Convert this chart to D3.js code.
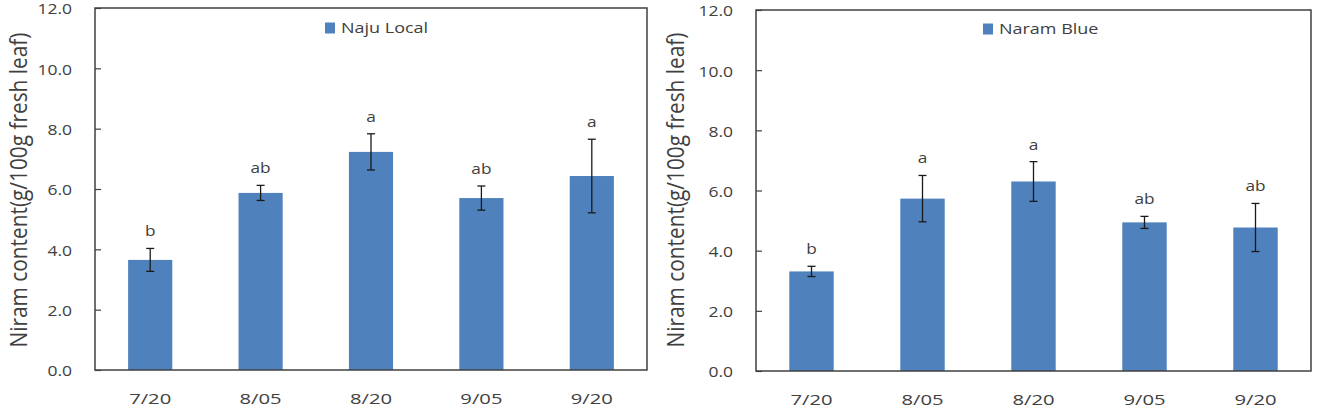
<!DOCTYPE html>
<html>
	<head>
		<style>
			body
			{
				margin: 0;
				background: #ffffff;
			}

			svg
			{
				display: block;
				font-family: "Open Sans", sans-serif;
			}

			.frame
			{
				fill: none;
				stroke: #404040;
				stroke-width: 1.5px;
			}

			.bar
			{
				fill: #4f81bd;
			}

			.errBar
			{
				stroke: #1a1a1a;
				stroke-width: 1.3px;
			}

			.chartText
			{
				fill: #404040;
			}
		</style>

		<script src="https://d3js.org/d3.v7.min.js"></script>
	</head>

	<body>
		<svg width="1325" height="416"></svg>

		<script>
			var dates = ["7/20", "8/05", "8/20", "9/05", "9/20"];
			var yTicks = [0, 2, 4, 6, 8, 10, 12];

			var najuMean = [3.65, 5.87, 7.23, 5.70, 6.43];
			var najuErr = [0.38, 0.25, 0.60, 0.40, 1.22];
			var najuLetters = ["b", "ab", "a", "ab", "a"];

			var naramMean = [3.31, 5.73, 6.30, 4.94, 4.77];
			var naramErr = [0.17, 0.77, 0.66, 0.20, 0.80];
			var naramLetters = ["b", "a", "a", "ab", "ab"];

			var yTitle = "Niram content(g/100g fresh leaf)";
			var stretch = 1.25;

			var svg = d3.select("svg");

			function drawPanel(opt)
			{
				var g = svg.append("g");

				var x = d3.scaleBand()
					.domain(dates)
					.range([opt.left, opt.right])
					.paddingInner(0.6)
					.paddingOuter(0.3);

				var y = d3.scaleLinear()
					.domain([0, 12])
					.range([opt.bottom, opt.top]);

				// y axis, ticks pointing inwards
				var yAxis = g.append("g")
					.attr("transform", "translate(" + opt.left + ",0)")
					.call(d3.axisLeft(y)
						.tickValues(yTicks)
						.tickSizeInner(-6)
						.tickSizeOuter(0)
						.tickFormat(d3.format(".1f")));

				yAxis.select(".domain").remove();
				yAxis.selectAll(".tick line")
					.attr("stroke", "#404040")
					.attr("stroke-width", 1.2);
				yAxis.selectAll(".tick text")
					.attr("class", "chartText")
					.attr("x", null)
					.attr("dy", "0.35em")
					.attr("text-anchor", "end")
					.attr("transform", "translate(-23,1) scale(" + stretch + ",1)")
					.style("font-size", "14px")
					.style("font-family", "'Open Sans', sans-serif");

				// x axis labels
				var xAxis = g.append("g")
					.attr("transform", "translate(0," + opt.bottom + ")")
					.call(d3.axisBottom(x).tickSize(0));

				xAxis.select(".domain").remove();
				xAxis.selectAll(".tick text")
					.attr("class", "chartText")
					.attr("y", null)
					.attr("dy", null)
					.attr("transform", "translate(0,34) scale(" + (stretch + 0.1) + ",1)")
					.style("font-size", "15px")
					.style("font-family", "'Open Sans', sans-serif");

				var rows = dates.map(function(d, i)
				{
					return { date: d, mean: opt.mean[i], err: opt.err[i], letter: opt.letters[i] };
				});

				g.selectAll("rect.bar")
					.data(rows)
					.enter()
					.append("rect")
					.attr("class", "bar")
					.attr("x", function(d) { return x(d.date); })
					.attr("y", function(d) { return y(d.mean); })
					.attr("width", x.bandwidth())
					.attr("height", function(d) { return opt.bottom - y(d.mean); });

				// error bars
				var cx = function(d) { return x(d.date) + x.bandwidth() / 2; };

				g.selectAll("line.errStem")
					.data(rows)
					.enter()
					.append("line")
					.attr("class", "errBar")
					.attr("x1", cx)
					.attr("x2", cx)
					.attr("y1", function(d) { return y(d.mean + d.err); })
					.attr("y2", function(d) { return y(d.mean - d.err); });

				["top", "bottom"].forEach(function(side)
				{
					g.selectAll("line.cap" + side)
						.data(rows)
						.enter()
						.append("line")
						.attr("class", "errBar")
						.attr("x1", function(d) { return cx(d) - 4; })
						.attr("x2", function(d) { return cx(d) + 4; })
						.attr("y1", function(d) { return y(side == "top" ? d.mean + d.err : d.mean - d.err); })
						.attr("y2", function(d) { return y(side == "top" ? d.mean + d.err : d.mean - d.err); });
				});

				// significance letters
				g.selectAll("text.letter")
					.data(rows)
					.enter()
					.append("text")
					.attr("class", "chartText")
					.attr("text-anchor", "middle")
					.attr("transform", function(d)
					{
						return "translate(" + cx(d) + "," + (y(d.mean + d.err) - 12) + ") scale(1.15,1)";
					})
					.style("font-size", "15px")
					.text(function(d) { return d.letter; });

				// frame
				g.append("rect")
					.attr("class", "frame")
					.attr("x", opt.left)
					.attr("y", opt.top)
					.attr("width", opt.right - opt.left)
					.attr("height", opt.bottom - opt.top);

				// legend
				g.append("rect")
					.attr("class", "bar")
					.attr("x", opt.legendX)
					.attr("y", opt.legendY - 5.5)
					.attr("width", 10)
					.attr("height", 11);

				g.append("text")
					.attr("class", "chartText")
					.attr("dy", "0.35em")
					.attr("transform", "translate(" + (opt.legendX + 16) + "," + opt.legendY + ") scale(1.2,1)")
					.style("font-size", "15px")
					.text(opt.name);

				// y title
				g.append("text")
					.attr("class", "chartText")
					.attr("text-anchor", "middle")
					.attr("dy", "0.35em")
					.attr("textLength", 315)
					.attr("lengthAdjust", "spacingAndGlyphs")
					.attr("transform", "translate(" + opt.titleX + "," + opt.titleY + ") rotate(-90) scale(1,1.3)")
					.style("font-size", "18px")
					.text(yTitle);
			}

			drawPanel({
				name: "Naju Local",
				mean: najuMean,
				err: najuErr,
				letters: najuLetters,
				left: 95, right: 647, top: 8, bottom: 370,
				legendX: 325, legendY: 28,
				titleX: 19, titleY: 190
			});

			drawPanel({
				name: "Naram Blue",
				mean: naramMean,
				err: naramErr,
				letters: naramLetters,
				left: 756, right: 1311, top: 10, bottom: 371,
				legendX: 983, legendY: 29,
				titleX: 676, titleY: 190
			});
		</script>
	</body>
</html>
